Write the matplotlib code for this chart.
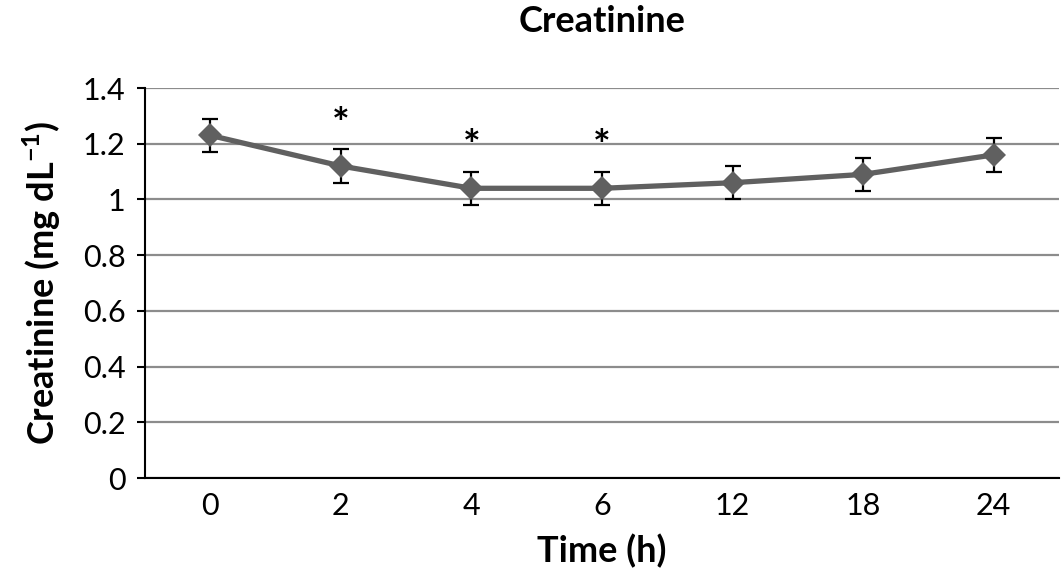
import numpy as np
import matplotlib.pyplot as plt

plt.rcParams['font.family'] = ['Lato', 'DejaVu Sans']
plt.rcParams['mathtext.fontset'] = 'custom'
plt.rcParams['mathtext.rm'] = 'Lato'
plt.rcParams['mathtext.bf'] = 'Lato:bold'

# Datos
tiempos = ['0', '2', '4', '6', '12', '18', '24']
creatinina = [1.23, 1.12, 1.04, 1.04, 1.06, 1.09, 1.16]
error = [0.06, 0.06, 0.06, 0.06, 0.06, 0.06, 0.06]
significativo = [False, True, True, True, False, False, False]

x = np.arange(len(tiempos))

fig = plt.figure(figsize=(10.64, 5.76), dpi=100)
ax = fig.add_axes([0.1363, 0.1701, 0.8590, 0.6771])

ax.errorbar(x, creatinina, yerr=error, fmt='none', ecolor='black',
            elinewidth=1.6, capsize=5.5, capthick=1.6, zorder=3)
ax.plot(x, creatinina, color='#606060', linewidth=3.8, marker='D',
        markersize=12.5, markeredgewidth=0, zorder=4)

for xi, yi, ei, s in zip(x, creatinina, error, significativo):
    if s:
        ax.text(xi, yi + ei + 0.085, '*', ha='center', va='center',
                fontsize=30, fontweight='bold', color='black')

ax.set_xlim(-0.5, len(tiempos) - 0.5)
ax.set_ylim(0, 1.4)
ax.set_yticks(np.arange(0, 1.41, 0.2))
ax.set_yticklabels(['0', '0.2', '0.4', '0.6', '0.8', '1', '1.2', '1.4'])
ax.set_xticks(x)
ax.set_xticklabels(tiempos)

ax.yaxis.grid(True, color='#8c8c8c', linewidth=1.6)
ax.set_axisbelow(True)
for lado in ['top', 'right']:
    ax.spines[lado].set_visible(False)
ax.spines['left'].set_linewidth(1.5)
ax.spines['bottom'].set_linewidth(1.5)

ax.tick_params(axis='x', length=0, labelsize=22, pad=10)
ax.tick_params(axis='y', length=6, width=1.5, labelsize=22, pad=8)

ax.set_title('Creatinine', fontsize=26, fontweight='bold', pad=40)
ax.set_xlabel('Time (h)', fontsize=26, fontweight='bold', labelpad=10)
ax.set_ylabel(r'Creatinine (mg dL$^{\mathbf{-1}}$)', fontsize=26,
              fontweight='bold', labelpad=14)

fig.savefig('out.png', dpi=100)
